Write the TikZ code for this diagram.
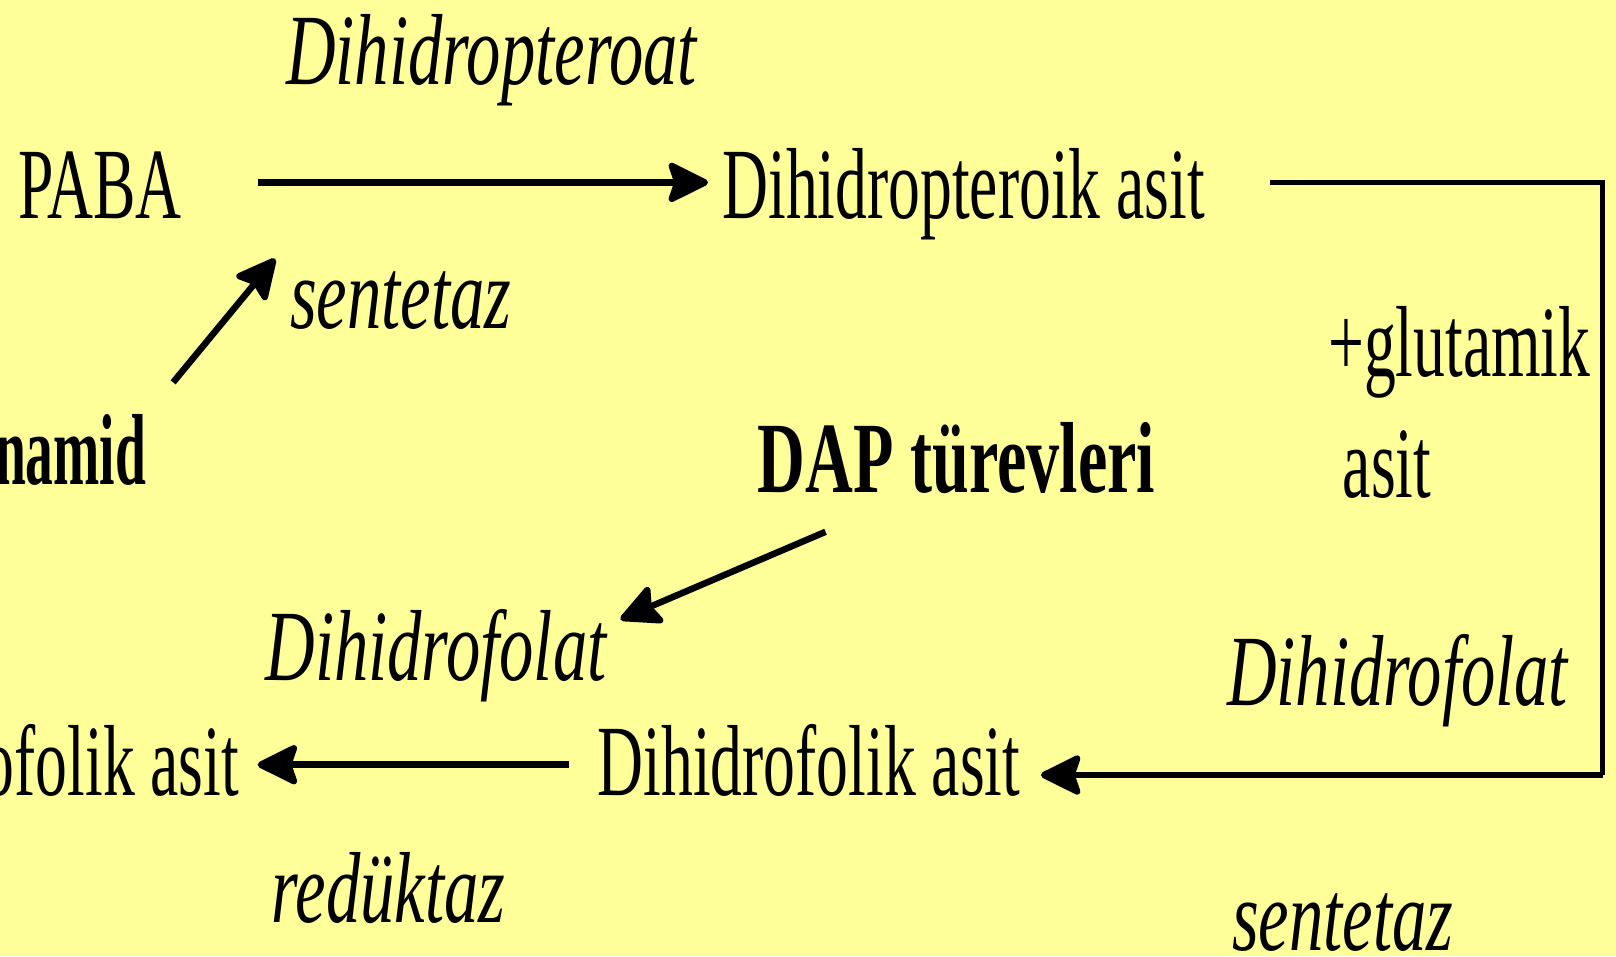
\documentclass[tikz,border=0pt]{standalone}
\usepackage{fontspec}
\setmainfont{Liberation Serif}[FakeStretch=0.63,
  ItalicFeatures={FakeStretch=0.68},
  BoldFeatures={FakeStretch=0.655}]
\usetikzlibrary{arrows.meta}
\definecolor{bg}{RGB}{255,255,153}
\tikzset{
  lbl/.style={inner sep=0pt, outer sep=0pt, font=\fontsize{98}{100}\selectfont},
  ilbl/.style={lbl, font=\fontsize{98}{100}\selectfont\itshape},
  blbl/.style={lbl, font=\fontsize{98}{100}\selectfont\bfseries},
  conn/.style={line width=6.3pt, line join=round, -{Stealth[length=44pt, width=43pt, inset=7pt, round]}},
  plain/.style={line width=4.5pt, line join=miter}
}
\begin{document}
\begin{tikzpicture}[x=1pt, y=-1pt]
\useasboundingbox (0,0) rectangle (1568,928);
\fill[bg] (0,0) rectangle (1568,928);
\clip (0,0) rectangle (1568,928);

\node[ilbl, anchor=base] (enz1) at (477,82) {Dihidropteroat};
\node[lbl, anchor=base] (paba) at (97,212) {PABA};
\node[lbl, anchor=base] (dpa) at (935,212) {Dihidropteroik asit};
\node[ilbl, anchor=base] (sent1) at (389,319) {sentetaz};
\node[blbl, anchor=base east] (sulf) at (142,470) {\scalebox{0.84}[1]{namid}};
\node[blbl, anchor=base] (dap) at (928,478) {DAP türevleri};
\node[lbl, anchor=base east] (glu) at (1543,365) {+glutamik};
\node[lbl, anchor=base west] (glu2) at (1303,483) {asit};
\node[ilbl, anchor=base] (enz2) at (423,660) {Dihidrofolat};
\node[lbl, anchor=base east] (thf) at (232,772) {ofolik asit};
\node[lbl, anchor=base] (dfa) at (785,772) {Dihidrofolik asit};
\node[ilbl, anchor=base] (red) at (377,895) {redüktaz};
\node[ilbl, anchor=base] (enz3) at (1356,685) {Dihidrofolat};
\node[ilbl, anchor=base] (sent2) at (1303,922) {sentetaz};

\coordinate (a1s) at (250,177);
\coordinate (a1e) at (687,177);
\coordinate (a2s) at (168,371);
\coordinate (a2e) at (267,251);
\coordinate (c3s) at (1232,177);
\coordinate (c3m) at (1555,752);
\coordinate (c3e) at (1010,752);
\coordinate (a4s) at (801,516);
\coordinate (a4e) at (602,601);
\coordinate (a5s) at (552,742);
\coordinate (a5e) at (250,742);

\draw[conn] (a1s) -- (a1e);
\draw[conn] (a2s) -- (a2e);
\draw[plain] (c3s) -| (c3m);
\draw[conn] (c3m) -- (c3e);
\draw[conn] (a4s) -- (a4e);
\draw[conn] (a5s) -- (a5e);
\end{tikzpicture}
\end{document}
